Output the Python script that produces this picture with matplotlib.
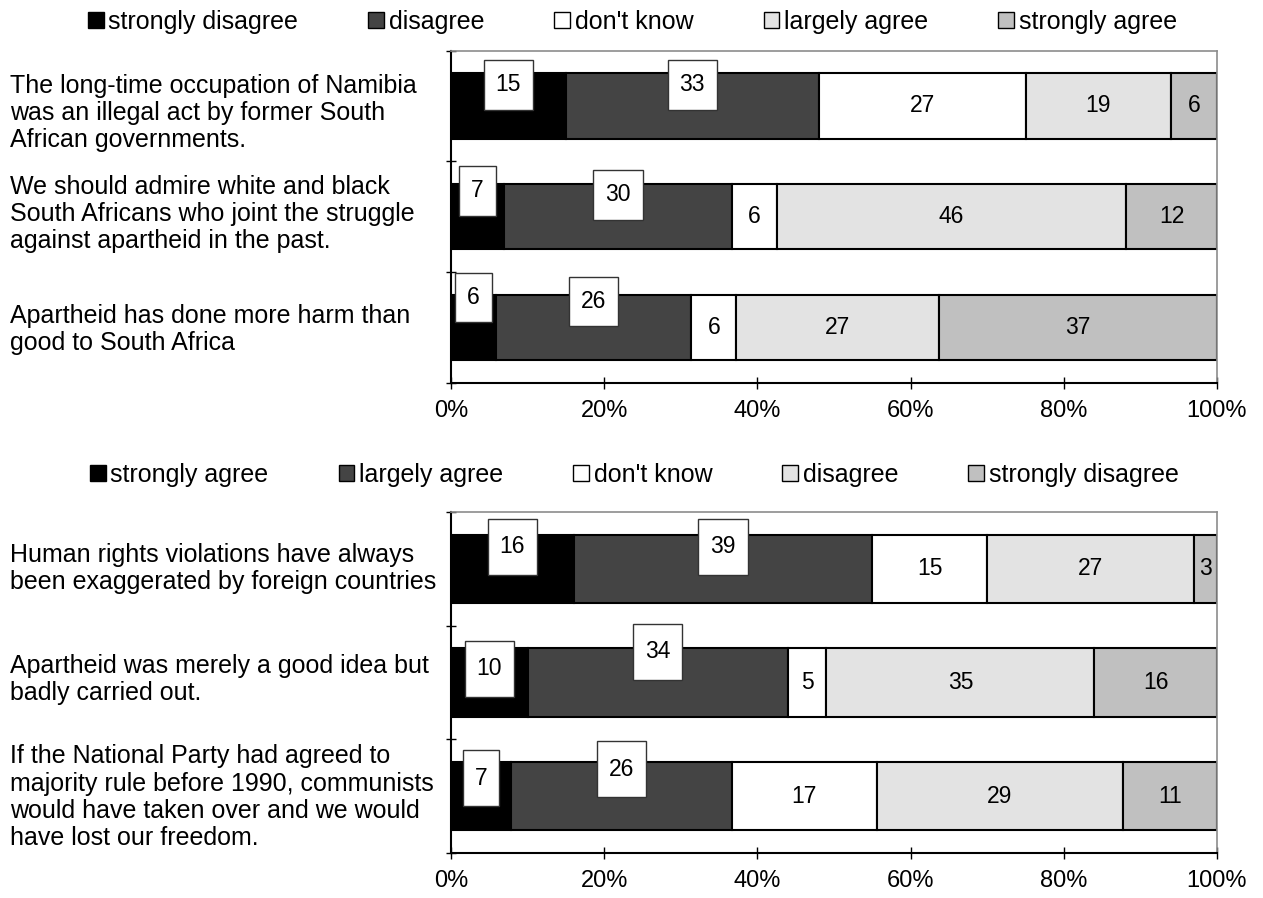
import matplotlib
matplotlib.use("Agg")
import matplotlib.pyplot as plt
import matplotlib.patches as mpatches
import matplotlib.transforms as mtransforms
from matplotlib.path import Path
import numpy as np

plt.rcParams['font.family'] = ['Liberation Sans', 'DejaVu Sans']

# ---------------- data ----------------
top_categories = [
    "The long-time occupation of Namibia\nwas an illegal act by former South\nAfrican governments.",
    "We should admire white and black\nSouth Africans who joint the struggle\nagainst apartheid in the past.",
    "Apartheid has done more harm than\ngood to South Africa",
]
top_series = ["strongly disagree", "disagree", "don't know", "largely agree", "strongly agree"]
top_values = [
    [15, 33, 27, 19, 6],
    [7, 30, 6, 46, 12],
    [6, 26, 6, 27, 37],
]

bottom_categories = [
    "Human rights violations have always\nbeen exaggerated by foreign countries",
    "Apartheid was merely a good idea but\nbadly carried out.",
    "If the National Party had agreed to\nmajority rule before 1990, communists\nwould have taken over and we would\nhave lost our freedom.",
]
bottom_series = ["strongly agree", "largely agree", "don't know", "disagree", "strongly disagree"]
bottom_values = [
    [16, 39, 15, 27, 3],
    [10, 34, 5, 35, 16],
    [7, 26, 17, 29, 11],
]

x_ticks = [0, 20, 40, 60, 80, 100]
x_ticklabels = ["0%", "20%", "40%", "60%", "80%", "100%"]

# ---------------- style ----------------
colors = ["#000000", "#444444", "#ffffff", "#e3e3e3", "#c0c0c0"]
FS_CAT = 18
FS_LEG = 18
FS_TICK = 17
FS_VAL = 16.5
W, H = 1263, 898
# vertical lift (px) of boxed labels of the first two segments, per row
top_lift = [[21, 21], [26, 22], [30, 26]]
bottom_lift = [[22, 22], [14, 31], [18, 27]]
# small vertical shift (px, downward) of the category texts
top_cat_shift = [7, -3, 2]
bottom_cat_shift = [0, -3, 1]

fig = plt.figure(figsize=(W / 100, H / 100), dpi=100)


def make_box(padx, pady):
    def box(x0, y0, width, height, mutation_size):
        px = padx * mutation_size
        py = pady * mutation_size
        xa, ya = x0 - px, y0 - py
        xb, yb = x0 + width + px, y0 + height + py
        return Path([(xa, ya), (xb, ya), (xb, yb), (xa, yb), (xa, ya)],
                    closed=True)
    return box


def make_panel(rect, cats, series, values, lifts, cat_shift, bar_h, legend_xy, pads):
    ax = fig.add_axes(rect)
    vals = np.array(values, dtype=float)
    pct = vals / vals.sum(axis=1, keepdims=True) * 100
    left = np.zeros(len(cats))
    ypos = np.arange(len(cats))
    for j, s in enumerate(series):
        ax.barh(ypos, pct[:, j], left=left, height=bar_h, color=colors[j],
                edgecolor="black", linewidth=1.5, label=s, zorder=2)
        for i in range(len(cats)):
            xc = left[i] + pct[i, j] / 2
            txt = str(int(values[i][j]))
            if j < 2:
                ax.annotate(txt, xy=(xc, ypos[i]), xytext=(0, lifts[i][j] * 0.72),
                            textcoords="offset points", ha="center", va="center",
                            fontsize=FS_VAL, zorder=5,
                            bbox=dict(boxstyle=make_box(*pads), facecolor="white",
                                      edgecolor="#333333", linewidth=1.0))
            else:
                ax.text(xc, ypos[i], txt, ha="center", va="center",
                        fontsize=FS_VAL, zorder=5)
        left = left + pct[:, j]

    ax.set_xlim(0, 100)
    ax.set_ylim(len(cats) - 0.5, -0.5)
    ax.set_xticks(x_ticks)
    ax.set_xticklabels(x_ticklabels, fontsize=FS_TICK)
    ax.set_yticks(np.arange(len(cats) + 1) - 0.5)
    ax.set_yticklabels([])
    ax.tick_params(axis="x", direction="inout", length=8, width=1.0, pad=8)
    ax.tick_params(axis="y", direction="inout", length=7, width=1.0)
    for side in ["left", "bottom"]:
        ax.spines[side].set_color("black")
        ax.spines[side].set_linewidth(1.5)
    for side in ["top", "right"]:
        ax.spines[side].set_color("#8c8c8c")
        ax.spines[side].set_linewidth(1.2)

    trans = mtransforms.blended_transform_factory(fig.transFigure, ax.transData)
    for i, c in enumerate(cats):
        ax.annotate(c, xy=(10 / W, ypos[i]), xycoords=trans,
                    xytext=(0, -cat_shift[i] * 0.72), textcoords="offset points",
                    ha="left", va="center", fontsize=FS_CAT, linespacing=1.17,
                    annotation_clip=False)

    handles = [mpatches.Patch(facecolor=colors[j], edgecolor="black", linewidth=1.0)
               for j in range(len(series))]
    fig.legend(handles, series, loc="center left",
               bbox_to_anchor=(legend_xy[0] / W, 1 - legend_xy[1] / H),
               ncol=len(series), frameon=False, fontsize=FS_LEG,
               handlelength=0.62, handleheight=0.62, handletextpad=0.2,
               columnspacing=2.8, borderpad=0, borderaxespad=0)
    return ax


make_panel([451 / W, 1 - 383 / H, (1217 - 451) / W, (383 - 50.5) / H],
           top_categories, top_series, top_values, top_lift, top_cat_shift,
           0.59, (88, 21.7), (0.52, 0.58))
make_panel([451 / W, 1 - 853 / H, (1217 - 451) / W, (853 - 512) / H],
           bottom_categories, bottom_series, bottom_values, bottom_lift, bottom_cat_shift,
           0.6, (90, 475), (0.52, 0.72))

fig.savefig("out.png", dpi=100)
